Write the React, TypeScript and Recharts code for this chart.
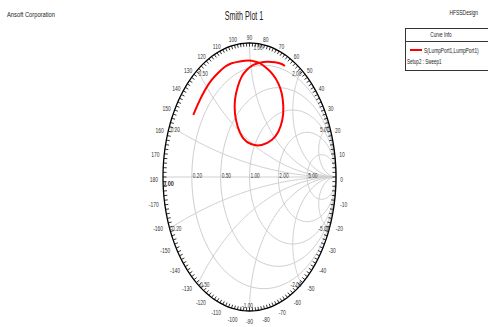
import React from 'react';
import { ScatterChart, Scatter, XAxis, YAxis, ReferenceLine } from 'recharts';

// S(LumpPort1,LumpPort1) trace, reflection coefficient (real / imaginary)
const s11Re = [
  -0.650, -0.592, -0.514, -0.437, -0.361, -0.283, -0.206, -0.129, -0.052, 0.025,
  0.083, 0.121, 0.199, 0.275, 0.333, 0.372, 0.391, 0.379, 0.333, 0.257,
  0.141, 0.025, -0.072, -0.136, -0.168, -0.168, -0.136, -0.090, -0.032, 0.044,
  0.121, 0.199, 0.295, 0.372, 0.410,
];
const s11Im = [
  0.463, 0.550, 0.649, 0.724, 0.778, 0.823, 0.849, 0.860, 0.868, 0.868,
  0.858, 0.849, 0.811, 0.761, 0.699, 0.625, 0.525, 0.425, 0.338, 0.276,
  0.239, 0.244, 0.289, 0.375, 0.475, 0.575, 0.674, 0.749, 0.799, 0.836,
  0.853, 0.860, 0.856, 0.843, 0.828,
];

// Smith grid: constant resistance circles and constant reactance arcs
const resistances = [0.2, 0.5, 1, 2, 5];
const resistanceLabels = ['0.20', '0.50', '1.00', '2.00', '5.00'];
const reactances = [0.2, 0.5, 1, 2, 5, -0.2, -0.5, -1, -2, -5];
const reactanceLabels = ['0.20', '0.50', '1.00', '2.00', '5.00', '-0.20', '-0.50', '-1.00', '-2.00', '-5.00'];

// angle scale around the unit circle (degrees)
const angleLabels = [
  -170, -160, -150, -140, -130, -120, -110, -100, -90, -80, -70, -60, -50, -40, -30, -20, -10,
  0, 10, 20, 30, 40, 50, 60, 70, 80, 90, 100, 110, 120, 130, 140, 150, 160, 170, 180,
];
const minorTickStep = 2;

const W = 488;
const H = 327;
const MARGIN = { top: 43, right: 152, bottom: 16, left: 163 };
const RX = (W - MARGIN.left - MARGIN.right) / 2;
const RY = (H - MARGIN.top - MARGIN.bottom) / 2;

const FONT = 'Liberation Sans, Arial, sans-serif';
const GRID = '#cfcfcf';

type Pt = { x: number; y: number };

// (z - 1) / (z + 1) with z = r + jx
const toGamma = (r: number, x: number): Pt => {
  const a = r - 1;
  const c = r + 1;
  const den = c * c + x * x;
  return { x: (a * c + x * x) / den, y: (x * c - a * x) / den };
};

const circle = (cx: number, cy: number, rad: number, n = 120): Pt[] =>
  Array.from({ length: n + 1 }, (_, i) => {
    const t = (i / n) * Math.PI * 2;
    return { x: cx + rad * Math.cos(t), y: cy + rad * Math.sin(t) };
  });

const reactanceArc = (x: number, n = 90): Pt[] => {
  const pts = Array.from({ length: n }, (_, i) => toGamma(Math.tan((i / n) * (Math.PI / 2)), x));
  pts.push({ x: 1, y: 0 });
  return pts;
};

const s11 = s11Re.map((re, i) => ({ x: re, y: s11Im[i] }));
const outline = circle(0, 0, 1, 180);
const rCircles = resistances.map((r) => circle(r / (1 + r), 0, 1 / (1 + r)));
const xArcs = reactances.map((x) => reactanceArc(x));

const tickData = Array.from({ length: 360 / minorTickStep }, (_, i) => {
  const deg = -180 + i * minorTickStep;
  const t = (deg * Math.PI) / 180;
  return { x: Math.cos(t), y: Math.sin(t), deg };
});
const angleData = angleLabels.map((deg) => {
  const t = (deg * Math.PI) / 180;
  return { x: Math.cos(t), y: Math.sin(t), deg, label: String(deg) };
});
const rLabelData = resistances.map((r, i) => ({ ...toGamma(r, 0), label: resistanceLabels[i] }));
const xLabelData = reactances.map((x, i) => ({ ...toGamma(0, x), label: reactanceLabels[i] }));
const zeroLabelData = [{ x: -1, y: 0, label: '0.00' }];

const hidden = () => <g />;

const SmallText = ({ x, y, anchor = 'start', size = 7, sx = 0.68, fill = '#222', weight = 'normal', children }: any) => (
  <text
    transform={`translate(${x},${y}) scale(${sx},1)`}
    textAnchor={anchor}
    fontSize={size}
    fontFamily={FONT}
    fontWeight={weight}
    fill={fill}
  >
    {children}
  </text>
);

const TickMark = ({ cx, cy, payload }: any) => {
  const t = (payload.deg * Math.PI) / 180;
  const gx = Math.cos(t) / RX;
  const gy = -Math.sin(t) / RY;
  const len = Math.hypot(gx, gy);
  return <line x1={cx} y1={cy} x2={cx - (3.5 * gx) / len} y2={cy - (3.5 * gy) / len} stroke="#000" strokeWidth={0.8} />;
};

const AngleLabel = ({ cx, cy, payload }: any) => {
  const t = (payload.deg * Math.PI) / 180;
  const hw = payload.label.length * 1.7;
  const x = cx + Math.cos(t) * (4 + hw);
  const y = cy - Math.sin(t) * 8 + 5;
  return <SmallText x={x} y={y} anchor="middle" size={7.5} sx={0.66} fill="#333">{payload.label}</SmallText>;
};

const ResistanceLabel = ({ cx, cy, payload }: any) => (
  <SmallText x={cx + 1} y={cy + 1} fill="#333">{payload.label}</SmallText>
);

const ReactanceLabel = ({ cx, cy, payload }: any) => {
  const g = payload as Pt;
  const upper = g.y > 0;
  let anchor = 'start';
  let dx = 1;
  if (g.x > 0.05) {
    anchor = 'end';
    dx = 0;
  } else if (Math.abs(g.x) <= 0.05) {
    anchor = upper ? 'start' : 'middle';
    dx = upper ? 4 : -2;
  }
  let dy = upper ? 6.5 : 2.5;
  if (Math.abs(g.x) <= 0.05 && !upper) dy = -3.5;
  return <SmallText x={cx + dx} y={cy + dy} anchor={anchor} fill="#333">{payload.label}</SmallText>;
};

const ZeroLabel = ({ cx, cy, payload }: any) => (
  <SmallText x={cx} y={cy + 9} sx={0.8} weight="bold" fill="#333">{payload.label}</SmallText>
);

const Overlay = () => (
  <svg width={W} height={H} style={{ position: 'absolute', left: 0, top: 0, pointerEvents: 'none' }}>
    <SmallText x={7} y={16.5} size={8} sx={0.72}>Ansoft Corporation</SmallText>
    <SmallText x={244} y={19.5} size={12} sx={0.6} anchor="middle">Smith Plot 1</SmallText>
    <SmallText x={478} y={15} size={7.5} sx={0.66} anchor="end">HFSSDesign</SmallText>
    <rect x={405.5} y={28.5} width={100} height={42} fill="#fff" stroke="#333" strokeWidth={1} />
    <line x1={405.5} y1={41.5} x2={505} y2={41.5} stroke="#333" strokeWidth={1} />
    <SmallText x={441} y={37} size={7} sx={0.66} anchor="middle">Curve Info</SmallText>
    <line x1={410} y1={50} x2={422} y2={50} stroke="#ff0000" strokeWidth={2} />
    <SmallText x={424} y={52.5} size={6.5} sx={0.74}>S(LumpPort1,LumpPort1)</SmallText>
    <SmallText x={407} y={63.5} size={6.5} sx={0.7}>Setup2 : Sweep1</SmallText>
  </svg>
);

export default function App() {
  return (
    <div style={{ position: 'absolute', left: 0, top: 0, width: W, height: H, background: '#fff' }}>
      <ScatterChart width={W} height={H} margin={MARGIN}>
        <XAxis type="number" dataKey="x" domain={[-1, 1]} hide />
        <YAxis type="number" dataKey="y" domain={[-1, 1]} hide />
        <ReferenceLine y={0} stroke={GRID} strokeWidth={1.2} />
        {rCircles.map((pts, i) => (
          <Scatter
            key={`r${i}`}
            data={pts}
            line={{ stroke: GRID, strokeWidth: 1 }}
            shape={hidden}
            isAnimationActive={false}
          />
        ))}
        {xArcs.map((pts, i) => (
          <Scatter
            key={`x${i}`}
            data={pts}
            line={{ stroke: GRID, strokeWidth: 1 }}
            shape={hidden}
            isAnimationActive={false}
          />
        ))}
        <Scatter data={outline} line={{ stroke: '#000', strokeWidth: 1.3 }} shape={hidden} isAnimationActive={false} />
        <Scatter data={tickData} shape={TickMark} isAnimationActive={false} />
        <Scatter data={angleData} shape={AngleLabel} isAnimationActive={false} />
        <Scatter data={rLabelData} shape={ResistanceLabel} isAnimationActive={false} />
        <Scatter data={xLabelData} shape={ReactanceLabel} isAnimationActive={false} />
        <Scatter data={zeroLabelData} shape={ZeroLabel} isAnimationActive={false} />
        <Scatter
          name="S(LumpPort1,LumpPort1)"
          data={s11}
          line={{ stroke: '#ff0000', strokeWidth: 2 }}
          lineJointType="natural"
          shape={hidden}
          isAnimationActive={false}
        />
      </ScatterChart>
      <Overlay />
    </div>
  );
}
